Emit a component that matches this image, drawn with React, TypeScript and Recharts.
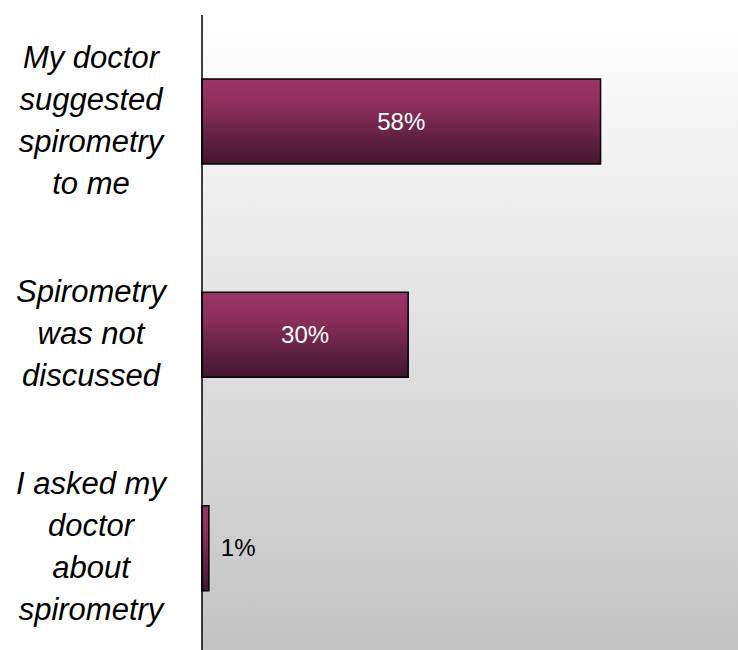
import React from 'react';
import { BarChart, Bar, XAxis, YAxis, CartesianGrid, LabelList } from 'recharts';

const categories = [
  'My doctor\nsuggested\nspirometry\nto me',
  'Spirometry\nwas not\ndiscussed',
  'I asked my\ndoctor\nabout\nspirometry',
];
const shares = [58, 30, 1];
const xDomain = [0, 78];

const chartData = categories.map((label, i) => ({ label, value: shares[i] }));

const FONT = '"Liberation Sans", Arial, sans-serif';

function CategoryTick(props: any) {
  const { y, payload } = props;
  const lines = String(payload.value).split('\n');
  const lineHeight = 42;
  const startDy = -((lines.length - 1) / 2) * lineHeight + 9;
  return (
    <text
      x={91}
      y={y}
      textAnchor="middle"
      fontSize={31}
      fontStyle="italic"
      fontFamily={FONT}
      fill="#000"
    >
      {lines.map((line, i) => (
        <tspan key={i} x={91} dy={i === 0 ? startDy : lineHeight}>
          {line}
        </tspan>
      ))}
    </text>
  );
}

function ValueLabel(props: any) {
  const { x, y, width, height, value } = props;
  const inside = value >= 10;
  return (
    <text
      x={inside ? x + width / 2 : x + width + 12}
      y={y + height / 2}
      dy={8}
      textAnchor={inside ? 'middle' : 'start'}
      fontSize={24}
      fontFamily={FONT}
      fill={inside ? '#ffffff' : '#000000'}
    >
      {value}%
    </text>
  );
}

export default function App() {
  return (
    <div
      style={{
        position: 'fixed',
        top: 0,
        left: 0,
        width: 738,
        height: 650,
        overflow: 'hidden',
        background: '#fff',
      }}
    >
      <BarChart
        width={738}
        height={655}
        data={chartData}
        layout="vertical"
        margin={{ top: 15, right: 0, left: 0, bottom: 0 }}
      >
        <defs>
          <linearGradient id="plotBg" x1="0" y1="0" x2="0" y2="1">
            <stop offset="0%" stopColor="#ffffff" />
            <stop offset="100%" stopColor="#c3c3c3" />
          </linearGradient>
          <linearGradient id="barFill" x1="0" y1="0" x2="0" y2="1">
            <stop offset="0%" stopColor="#9c3466" />
            <stop offset="30%" stopColor="#8e2f5c" />
            <stop offset="75%" stopColor="#5a1f3d" />
            <stop offset="100%" stopColor="#44172e" />
          </linearGradient>
        </defs>
        <CartesianGrid horizontal={false} vertical={false} fill="url(#plotBg)" />
        <XAxis type="number" domain={xDomain} hide />
        <YAxis
          type="category"
          dataKey="label"
          width={202}
          axisLine={{ stroke: '#000', strokeWidth: 1.5 }}
          tickLine={false}
          tick={<CategoryTick />}
          interval={0}
        />
        <Bar
          dataKey="value"
          fill="url(#barFill)"
          stroke="#000"
          strokeWidth={1.5}
          barSize={85}
          isAnimationActive={false}
        >
          <LabelList dataKey="value" content={<ValueLabel />} />
        </Bar>
      </BarChart>
    </div>
  );
}
